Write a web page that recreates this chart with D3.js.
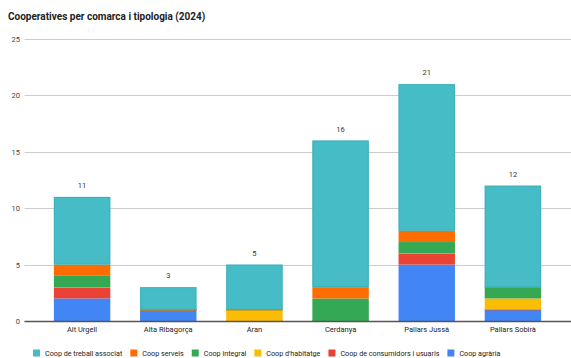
<!DOCTYPE html>
<html>
<head>
<meta charset="utf-8">
<script src="https://cdn.jsdelivr.net/npm/d3@7"></script>
<style>
  body { margin: 0; background: #fff; }
  svg { font-family: Roboto, Arial, sans-serif; display: block; }
</style>
</head>
<body>
<div id="chart"></div>
<script>
const comarques = ['Alt Urgell', 'Alta Ribagorça', 'Aran', 'Cerdanya', 'Pallars Jussà', 'Pallars Sobirà'];
const agraria = [2, 1, 0, 0, 5, 1];
const consumidors = [1, 0, 0, 0, 1, 0];
const habitatge = [0, 0, 1, 0, 0, 1];
const integral = [1, 0, 0, 2, 1, 1];
const serveis = [1, 0, 0, 1, 1, 0];
const treball = [6, 2, 4, 13, 13, 9];
const yTicks = [0, 5, 10, 15, 20, 25];

// stacking order, bottom to top
const series = [
  { key: 'agraria', name: 'Coop agrària', color: '#4285f4', values: agraria },
  { key: 'consumidors', name: 'Coop de consumidors i usuaris', color: '#ea4335', values: consumidors },
  { key: 'habitatge', name: "Coop d'habitatge", color: '#fbbc04', values: habitatge },
  { key: 'integral', name: 'Coop integral', color: '#34a853', values: integral },
  { key: 'serveis', name: 'Coop serveis', color: '#ff6d01', values: serveis },
  { key: 'treball', name: 'Coop de treball associat', color: '#46bdc6', values: treball }
];

const rows = comarques.map((c, i) => {
  const r = { comarca: c };
  series.forEach(s => r[s.key] = s.values[i]);
  return r;
});

const W = 571, H = 358;
const svg = d3.select('#chart').append('svg')
  .attr('width', W)
  .attr('height', H);

svg.append('text')
  .attr('x', 8)
  .attr('y', 20)
  .attr('font-size', 10)
  .attr('font-weight', 'bold')
  .attr('fill', '#222')
  .text('Cooperatives per comarca i tipologia (2024)');

const x = d3.scaleBand()
  .domain(comarques)
  .range([39, 556])
  .paddingInner(0.345)
  .paddingOuter(0.1725);

const y = d3.scaleLinear()
  .domain([0, 25])
  .range([321, 39]);

// Gridlines + y labels
const grid = svg.append('g');
grid.selectAll('line')
  .data(yTicks)
  .enter().append('line')
    .attr('x1', 24.5)
    .attr('x2', 571)
    .attr('y1', d => Math.round(y(d)) + 0.5)
    .attr('y2', d => Math.round(y(d)) + 0.5)
    .attr('stroke', '#cccccc')
    .attr('stroke-width', 1);

grid.selectAll('text')
  .data(yTicks)
  .enter().append('text')
    .attr('x', 20)
    .attr('y', d => y(d) + 3)
    .attr('text-anchor', 'end')
    .attr('font-size', 7.5)
    .attr('fill', '#444')
    .text(d => d);

// Stacked bars
const stack = d3.stack().keys(series.map(s => s.key));
const layers = stack(rows);

const g = svg.append('g');
layers.forEach((layer, li) => {
  const s = series[li];
  // zero-value segments still show as a hairline, like the original
  g.selectAll('.seg-' + s.key)
    .data(layer)
    .enter().append('rect')
      .attr('class', 'seg-' + s.key)
      .attr('x', d => x(d.data.comarca))
      .attr('width', x.bandwidth())
      .attr('y', d => d[1] === d[0] ? y(d[1]) - 0.6 : y(d[1]))
      .attr('height', d => d[1] === d[0] ? 1.2 : y(d[0]) - y(d[1]))
      .attr('fill', s.color);
});

// faint outline on top segment
g.selectAll('.outline')
  .data(layers[layers.length - 1])
  .enter().append('rect')
    .attr('x', d => x(d.data.comarca) + 0.5)
    .attr('width', x.bandwidth() - 1)
    .attr('y', d => y(d[1]) + 0.5)
    .attr('height', d => y(d[0]) - y(d[1]) - 1)
    .attr('fill', 'none')
    .attr('stroke', '#3aa7b0')
    .attr('stroke-opacity', 0.6)
    .attr('stroke-width', 1);

// baseline
svg.append('line')
  .attr('x1', 24.5)
  .attr('x2', 571)
  .attr('y1', y(0) + 0.5)
  .attr('y2', y(0) + 0.5)
  .attr('stroke', '#555')
  .attr('stroke-width', 1.3);

// totals
g.selectAll('.total')
  .data(rows)
  .enter().append('text')
    .attr('x', d => x(d.comarca) + x.bandwidth() / 2)
    .attr('y', d => y(d3.sum(series, s => d[s.key])) - 9)
    .attr('text-anchor', 'middle')
    .attr('font-size', 7.5)
    .attr('fill', '#333')
    .text(d => d3.sum(series, s => d[s.key]));

// x labels
svg.append('g').selectAll('text')
  .data(comarques)
  .enter().append('text')
    .attr('x', d => x(d) + x.bandwidth() / 2)
    .attr('y', 332)
    .attr('text-anchor', 'middle')
    .attr('font-size', 7.5)
    .attr('fill', '#222')
    .text(d => d);

// Legend
const legend = svg.append('g').attr('transform', 'translate(33,353)');
let lx = 0;
series.slice().reverse().forEach(s => {
  const item = legend.append('g').attr('transform', `translate(${lx},0)`);
  item.append('rect')
    .attr('x', 0)
    .attr('y', -3.5)
    .attr('width', 7)
    .attr('height', 7)
    .attr('fill', s.color);
  const t = item.append('text')
    .attr('x', 12)
    .attr('y', 2.5)
    .attr('font-size', 7.2)
    .attr('fill', '#222')
    .text(s.name);
  lx += 12 + t.node().getComputedTextLength() + 8;
});
</script>
</body>
</html>
